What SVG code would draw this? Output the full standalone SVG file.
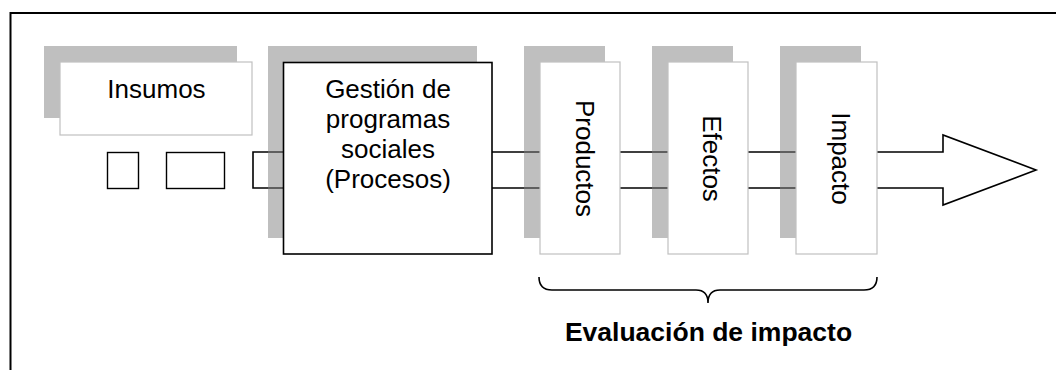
<svg xmlns="http://www.w3.org/2000/svg" width="1056" height="370" viewBox="0 0 1056 370">
  <style>
    .frame { fill: none; stroke: #000; stroke-width: 2; }
    .shadow { fill: #808080; fill-opacity: 0.5; stroke: none; }
    .card { fill: #fff; stroke: #c0c0c0; stroke-width: 1.2; }
    .main { fill: #fff; stroke: #000; stroke-width: 1.6; }
    .tile { fill: #fff; stroke: #000; stroke-width: 1.4; }
    .flow { fill: #fff; stroke: #000; stroke-width: 1.6; stroke-linejoin: miter; }
    .brace { fill: none; stroke: #000; stroke-width: 1.6; }
    .lbl { font-family: "Liberation Sans", Arial, sans-serif; font-size: 26px; fill: #000; text-anchor: middle; }
    .bold { font-weight: bold; font-size: 26.5px; }
  </style>

  <!-- cell border: top and left edges -->
  <path class="frame" d="M10.5,370 V13 H1056"/>

  <!-- flow arrow running behind the stages -->
  <g id="connectors">
    <path id="flow-arrow" class="flow" d="M253,152 H943 V135 L1036,170 L943,205 V188 H253 Z"/>
  </g>

  <g id="insumos">
    <rect class="shadow" x="44" y="46" width="193" height="72"/>
    <rect class="card" x="60" y="62" width="192" height="73"/>
    <text class="lbl" x="156.5" y="98">Insumos</text>
  </g>

  <g id="tile-1">
    <rect class="tile" x="107.5" y="152.5" width="31" height="36"/>
  </g>
  <g id="tile-2">
    <rect class="tile" x="166.5" y="152.5" width="58" height="36"/>
  </g>

  <g id="gestion">
    <rect class="shadow" x="268" y="46" width="209" height="192"/>
    <rect class="main" x="283.5" y="62.5" width="208.5" height="191.5"/>
    <text class="lbl" x="388" y="98">Gestión de</text>
    <text class="lbl" x="388" y="128">programas</text>
    <text class="lbl" x="388" y="158">sociales</text>
    <text class="lbl" x="388" y="188">(Procesos)</text>
  </g>

  <g id="productos">
    <rect class="shadow" x="524" y="46" width="81" height="192"/>
    <rect class="card" x="540" y="62" width="80" height="192"/>
    <text class="lbl" transform="translate(576,158.5) rotate(90)">Productos</text>
  </g>

  <g id="efectos">
    <rect class="shadow" x="652" y="46" width="81" height="192"/>
    <rect class="card" x="668" y="62" width="80" height="192"/>
    <text class="lbl" transform="translate(703,158.5) rotate(90)">Efectos</text>
  </g>

  <g id="impacto">
    <rect class="shadow" x="780" y="46" width="81" height="192"/>
    <rect class="card" x="796" y="62" width="81" height="192"/>
    <text class="lbl" transform="translate(832,158.5) rotate(90)">Impacto</text>
  </g>

  <g id="evaluacion">
    <path class="brace" d="M539,277 Q539,290 552,290 H696 Q708,290 708,303 Q708,290 720,290 H864 Q877,290 877,277"/>
    <text class="lbl bold" x="708.5" y="341">Evaluación de impacto</text>
  </g>
</svg>
